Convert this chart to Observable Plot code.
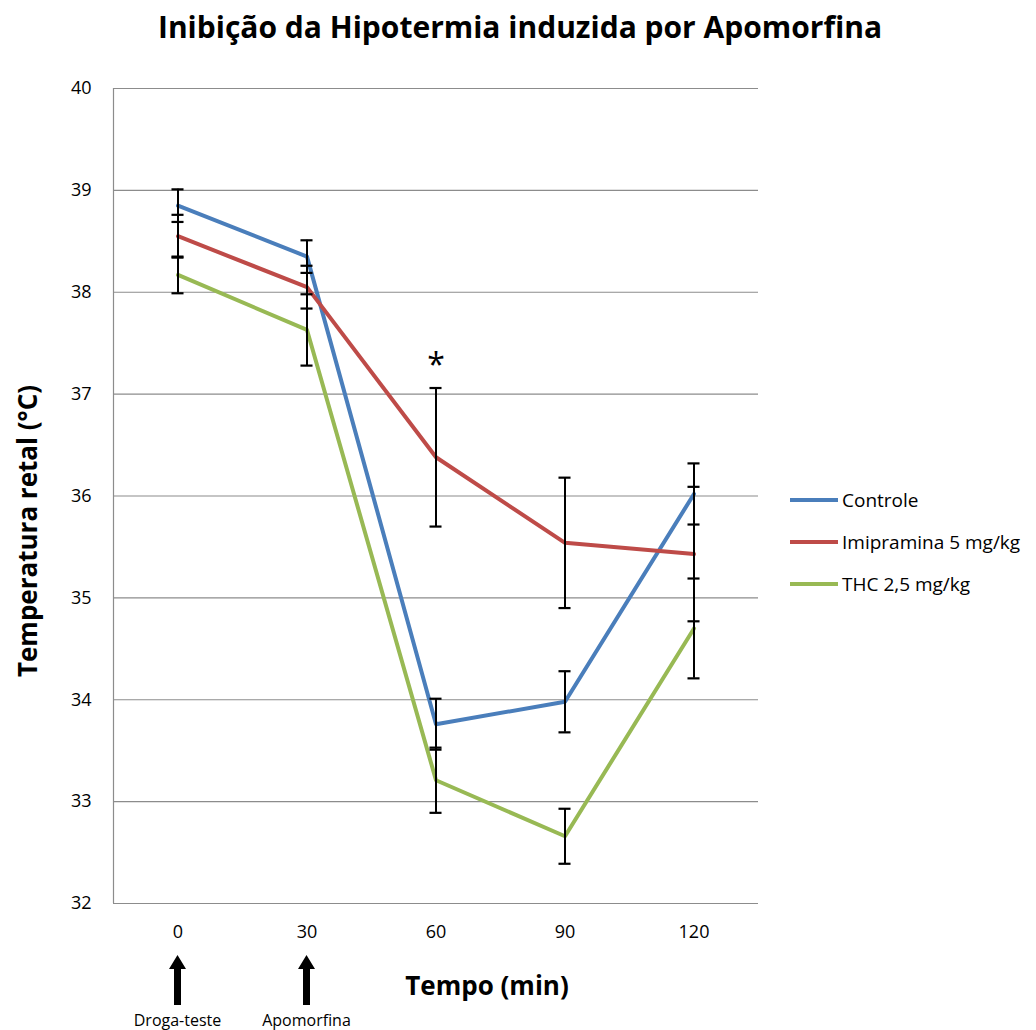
<!DOCTYPE html>
<html>
<head>
<meta charset="utf-8">
<script src="https://cdn.jsdelivr.net/npm/d3@7"></script>
<script src="https://cdn.jsdelivr.net/npm/@observablehq/plot@0.6"></script>
<style>
  html, body { margin: 0; padding: 0; background: #fff; }
  #chart svg { display: block; }
</style>
</head>
<body>
<div id="chart"></div>
<script>
const times = [0, 30, 60, 90, 120];
const seriesNames = ["Controle", "Imipramina 5 mg/kg", "THC 2,5 mg/kg"];
const seriesColors = ["#4a7ebb", "#be4b48", "#98b954"];
const controle = [38.85, 38.35, 33.76, 33.98, 36.02];
const controleErr = [0.16, 0.16, 0.25, 0.30, 0.30];
const imipramina = [38.55, 38.05, 36.38, 35.54, 35.43];
const imipraminaErr = [0.21, 0.21, 0.68, 0.64, 0.66];
const thc = [38.17, 37.63, 33.21, 32.66, 34.70];
const thcErr = [0.18, 0.35, 0.32, 0.27, 0.49];
const yTicks = [32, 33, 34, 35, 36, 37, 38, 39, 40];
const significant = [{time: 60, series: "Imipramina 5 mg/kg", label: "*"}];
const events = [{time: 0, label: "Droga-teste"}, {time: 30, label: "Apomorfina"}];

const FONT = "'Open Sans', 'DejaVu Sans', sans-serif";

const values = [controle, imipramina, thc];
const errs = [controleErr, imipraminaErr, thcErr];
const data = [];
seriesNames.forEach((s, i) => times.forEach((t, j) => data.push({
  series: s, time: t, temp: values[i][j], err: errs[i][j]
})));
const lookup = (s, t) => data.find(d => d.series === s && d.time === t);

const plot = Plot.plot({
  width: 1036,
  height: 1030,
  marginLeft: 113,
  marginRight: 278,
  marginTop: 88,
  marginBottom: 127,
  style: {fontFamily: FONT, fontSize: "18px", color: "#000", background: "#fff"},
  x: {domain: [-15, 135], ticks: times, tickSize: 0, tickPadding: 22, label: null},
  y: {domain: [32, 40], ticks: yTicks, tickSize: 0, tickPadding: 22, label: null},
  color: {domain: seriesNames, range: seriesColors},
  marks: [
    Plot.gridY(yTicks, {stroke: "#8c8c8c", strokeOpacity: 1, strokeWidth: 1.2}),
    Plot.ruleX([-15], {stroke: "#8c8c8c", strokeWidth: 1.2}),
    Plot.line(data, {x: "time", y: "temp", z: "series", stroke: "series", strokeWidth: 4, curve: "linear"}),
    Plot.ruleX(data, {x: "time", y1: d => d.temp - d.err, y2: d => d.temp + d.err, stroke: "#000", strokeWidth: 2}),
    Plot.ruleY(data, {y: d => d.temp + d.err, x1: d => d.time - 1.4, x2: d => d.time + 1.4, stroke: "#000", strokeWidth: 2.2}),
    Plot.ruleY(data, {y: d => d.temp - d.err, x1: d => d.time - 1.4, x2: d => d.time + 1.4, stroke: "#000", strokeWidth: 2.2}),
    Plot.text(significant, {
      x: "time",
      y: d => { const p = lookup(d.series, d.time); return p.temp + p.err; },
      text: "label", dy: -12, fontSize: 32, fill: "#000", lineAnchor: "bottom"
    })
  ]
});

const svg = d3.select(plot);
const xs = plot.scale("x");

// Title
svg.append("text")
  .attr("x", 520).attr("y", 38)
  .attr("text-anchor", "middle")
  .attr("font-family", FONT).attr("font-weight", "bold").attr("font-size", 30)
  .attr("fill", "#000")
  .text("Inibição da Hipotermia induzida por Apomorfina");

// Y axis title
svg.append("text")
  .attr("transform", "translate(37,531) rotate(-90)")
  .attr("text-anchor", "middle")
  .attr("font-family", FONT).attr("font-weight", "bold").attr("font-size", 26)
  .attr("fill", "#000")
  .text("Temperatura retal (°C)");

// X axis title
svg.append("text")
  .attr("x", 487).attr("y", 995)
  .attr("text-anchor", "middle")
  .attr("font-family", FONT).attr("font-weight", "bold").attr("font-size", 26)
  .attr("fill", "#000")
  .text("Tempo (min)");

// Legend
const lg = svg.append("g");
seriesNames.forEach((s, i) => {
  const y = 500 + i * 42;
  lg.append("line").attr("x1", 790).attr("x2", 838).attr("y1", y).attr("y2", y)
    .attr("stroke", seriesColors[i]).attr("stroke-width", 4);
  lg.append("text").attr("x", 842).attr("y", y).attr("dy", "0.35em")
    .attr("text-anchor", "start")
    .attr("font-family", FONT).attr("font-size", 19).attr("fill", "#000").text(s);
});

// Event arrows
events.forEach(e => {
  const cx = xs.apply(e.time);
  svg.append("path")
    .attr("d", `M${cx - 3.5},1005 L${cx - 3.5},969 L${cx - 8.5},969 L${cx},955 L${cx + 8.5},969 L${cx + 3.5},969 L${cx + 3.5},1005 Z`)
    .attr("fill", "#000");
  svg.append("text").attr("x", cx).attr("y", 1026)
    .attr("text-anchor", "middle")
    .attr("font-family", FONT).attr("font-size", 16).attr("fill", "#000")
    .text(e.label);
});

document.getElementById("chart").appendChild(plot);
</script>
</body>
</html>
